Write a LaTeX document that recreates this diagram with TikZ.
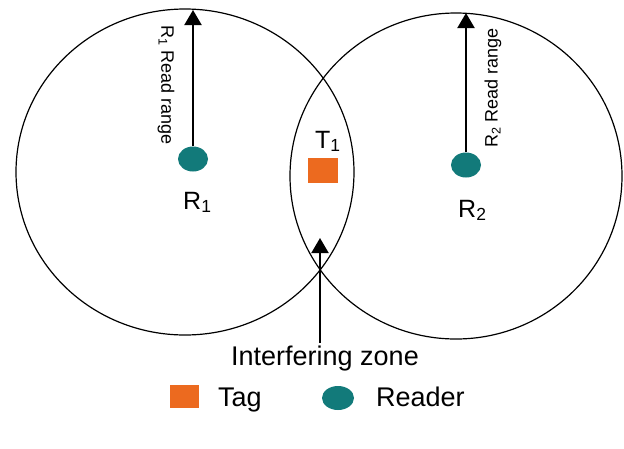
\documentclass[tikz,border=0pt]{standalone}
\usepackage{fontspec}
\setmainfont{Liberation Sans}
\usetikzlibrary{arrows.meta,shapes.geometric}
\definecolor{readerteal}{HTML}{127A7A}
\definecolor{tagorange}{HTML}{EC6A1F}
\begin{document}
\begin{tikzpicture}[x=1pt,y=-1pt,
  ring/.style={draw=black,line width=1.2pt},
  readerdot/.style={ellipse,fill=readerteal,minimum width=30pt,minimum height=25pt,inner sep=0pt},
  tagbox/.style={rectangle,fill=tagorange,minimum width=30pt,minimum height=25pt,inner sep=0pt},
  rangearrow/.style={line width=2pt,-{Triangle[width=17pt,length=15pt]}},
  biglabel/.style={font=\fontsize{27}{30}\selectfont,inner sep=0pt},
  midlabel/.style={font=\fontsize{25}{28}\selectfont,inner sep=0pt},
  smalllabel/.style={font=\fontsize{18}{20}\selectfont,inner sep=0pt}]
\useasboundingbox (0,0) rectangle (624,448);
\fill[white] (0,0) rectangle (624,448);
% range circles
\draw[ring] (185,172) ellipse[x radius=169,y radius=163];
\draw[ring] (456,176) ellipse[x radius=166,y radius=163];
% readers
\node[readerdot] (r1) at (193,159) {};
\node[readerdot] (r2) at (466,165) {};
\coordinate (top1) at (193,10);
\coordinate (top2) at (466,13);
\draw[rangearrow] (r1.north) -- (top1);
\draw[rangearrow] (r2.north) -- (top2);
\node[smalllabel,rotate=-90] (lab1) at (166,85) {R\textsubscript{1} Read range};
\node[smalllabel,rotate=90] (lab2) at (493,88) {R\textsubscript{2} Read range};
\node[midlabel,anchor=base west] (n1) at (183,209) {R\textsubscript{1}};
\node[midlabel,anchor=base west] (n2) at (458,217) {R\textsubscript{2}};
% tag
\node[tagbox] (t1) at (323,170) {};
\node[midlabel,anchor=base west] (tl) at (315,148) {T\textsubscript{1}};
% interfering zone
\node[biglabel,anchor=base] (iz) at (325,365) {Interfering zone};
\coordinate (iztip) at (320,238);
\draw[rangearrow] (320,343) coordinate (izbot) -- (iztip);
% legend
\node[tagbox,minimum width=29pt,minimum height=23pt] (legtag) at (184.5,396.5) {};
\node[biglabel,anchor=base west] (legtagtxt) at (218,406) {Tag};
\node[readerdot,minimum width=32pt,minimum height=24pt] (legreader) at (338,398) {};
\node[biglabel,anchor=base west] (legreadertxt) at (376,406) {Reader};
\end{tikzpicture}
\end{document}
